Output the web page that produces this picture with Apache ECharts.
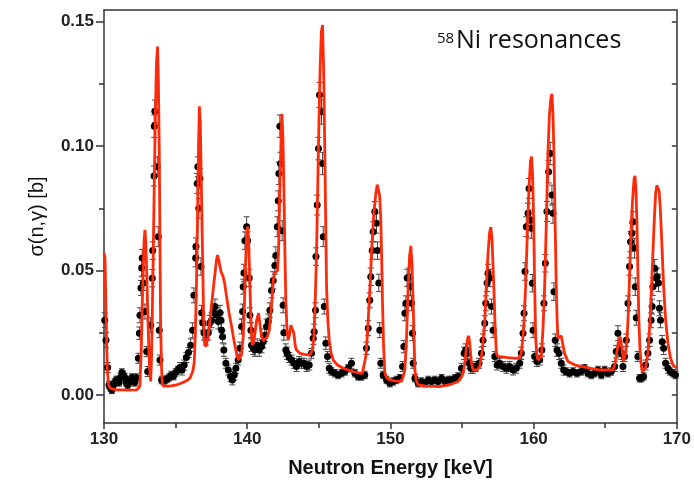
<!DOCTYPE html>
<html><head><meta charset="utf-8">
<script src="https://cdn.jsdelivr.net/npm/echarts@6/dist/echarts.min.js"></script>
<style>html,body{margin:0;padding:0;background:#fff}#c{width:694px;height:485px}</style>
</head><body><div id="c"></div>
<script>
// ---- theory curve (red) ----
const theoryE = [130.00,130.07,130.15,130.23,130.32,130.42,130.8,131.12,131.7,132.28,132.45,132.51,132.6,132.70,132.80,132.86,132.92,132.98,133.06,133.14,133.21,133.26,133.32,133.38,133.44,133.51,133.58,133.66,133.74,133.80,133.86,133.91,133.95,134.01,134.07,134.16,134.26,134.6,135.07,135.5,135.8,136.00,136.2,136.30,136.38,136.46,136.53,136.60,136.66,136.72,136.78,136.84,136.89,136.95,137.02,137.12,137.25,137.40,137.58,137.75,137.85,137.93,138.02,138.17,138.30,138.42,138.56,138.73,138.91,139.10,139.26,139.38,139.49,139.60,139.72,139.80,139.88,139.96,140.03,140.10,140.19,140.28,140.35,140.45,140.54,140.66,140.79,140.90,141.00,141.12,141.23,141.38,141.54,141.70,141.82,141.92,142.02,142.12,142.20,142.28,142.35,142.42,142.49,142.56,142.63,142.70,142.78,142.86,142.95,143.05,143.14,143.25,143.35,143.44,143.68,144.00,144.38,144.55,144.66,144.76,144.84,144.93,145.01,145.10,145.18,145.26,145.34,145.42,145.48,145.54,145.63,145.73,145.85,146.01,146.30,146.70,147.30,147.87,148.05,148.15,148.30,148.45,148.57,148.68,148.83,148.98,149.08,149.17,149.25,149.33,149.40,149.45,149.52,149.61,149.75,149.96,150.30,150.66,150.85,151.01,151.12,151.24,151.34,151.43,151.51,151.59,151.65,151.71,151.80,151.94,152.50,153.45,154.10,154.73,154.95,155.08,155.20,155.31,155.40,155.47,155.55,155.66,155.77,155.89,156.05,156.24,156.42,156.59,156.71,156.82,156.92,157.01,157.10,157.22,157.31,157.40,157.50,157.63,158.20,158.79,159.00,159.14,159.30,159.44,159.56,159.68,159.78,159.86,159.93,160.00,160.07,160.14,160.22,160.30,160.42,160.54,160.65,160.77,160.89,161.00,161.10,161.20,161.28,161.35,161.42,161.50,161.58,161.64,161.70,161.80,161.93,162.05,162.16,162.40,162.90,163.44,164.00,164.61,165.54,165.66,165.77,165.92,166.05,166.16,166.28,166.40,166.52,166.63,166.75,166.85,166.94,167.02,167.08,167.15,167.21,167.28,167.35,167.43,167.52,167.60,167.68,167.82,167.98,168.13,168.28,168.40,168.52,168.60,168.68,168.76,168.84,168.96,169.08,169.22,169.38,169.55,169.73,170.00];
const theorySigma = [0.057,0.055,0.030,0.010,0.004,0.0027,0.002,0.002,0.0019,0.002,0.003,0.004,0.018,0.0435,0.062,0.0663,0.061,0.050,0.032,0.0167,0.008,0.0054,0.015,0.035,0.057,0.085,0.110,0.133,0.1400,0.125,0.097,0.060,0.030,0.012,0.0047,0.0035,0.0033,0.0035,0.004,0.005,0.0058,0.0067,0.0095,0.013,0.025,0.045,0.070,0.100,0.116,0.110,0.090,0.070,0.055,0.032,0.021,0.0194,0.023,0.030,0.040,0.0489,0.054,0.0562,0.054,0.0496,0.0478,0.045,0.0395,0.033,0.0275,0.021,0.0167,0.014,0.0134,0.016,0.0234,0.035,0.052,0.064,0.0676,0.062,0.0435,0.027,0.020,0.021,0.0248,0.030,0.0328,0.028,0.0234,0.0218,0.022,0.023,0.026,0.036,0.046,0.049,0.049,0.050,0.060,0.0837,0.100,0.113,0.104,0.0837,0.058,0.0368,0.026,0.022,0.024,0.028,0.0288,0.025,0.020,0.018,0.0167,0.0163,0.016,0.018,0.0234,0.040,0.057,0.085,0.110,0.133,0.146,0.1487,0.130,0.097,0.070,0.0435,0.030,0.022,0.017,0.014,0.012,0.0107,0.0095,0.0087,0.0088,0.0094,0.016,0.030,0.043,0.057,0.072,0.081,0.0845,0.0853,0.080,0.0703,0.052,0.0368,0.020,0.0087,0.0068,0.006,0.0056,0.0054,0.0065,0.010,0.022,0.0435,0.056,0.0599,0.052,0.0368,0.022,0.010,0.006,0.004,0.0035,0.0033,0.004,0.0054,0.0070,0.0087,0.013,0.0194,0.0228,0.0237,0.020,0.0127,0.010,0.0094,0.010,0.0114,0.018,0.030,0.045,0.057,0.065,0.0674,0.062,0.0435,0.028,0.0167,0.0155,0.0154,0.015,0.0147,0.015,0.0167,0.026,0.0435,0.065,0.0837,0.094,0.0958,0.088,0.0703,0.045,0.0234,0.016,0.014,0.0142,0.0154,0.026,0.0435,0.070,0.097,0.112,0.119,0.121,0.113,0.097,0.070,0.0435,0.030,0.0228,0.0232,0.0237,0.020,0.0167,0.0134,0.012,0.0114,0.0107,0.010,0.010,0.012,0.0154,0.021,0.0234,0.019,0.0134,0.016,0.022,0.035,0.057,0.072,0.081,0.087,0.088,0.082,0.0703,0.050,0.030,0.018,0.0114,0.0092,0.0087,0.011,0.0167,0.030,0.050,0.067,0.081,0.0842,0.0848,0.082,0.0757,0.060,0.0435,0.030,0.0208,0.015,0.012,0.0107];

// ---- measured data (black points with error bars) ----
const dataE = [130.05,130.14,130.25,130.35,130.45,130.55,130.65,130.75,130.85,130.95,131.05,131.15,131.25,131.35,131.45,131.55,131.65,131.75,131.85,131.95,132.05,132.15,132.25,132.40,132.47,132.51,132.58,132.63,132.67,132.74,132.86,132.98,133.05,133.16,133.26,133.37,133.40,133.49,133.51,133.55,133.72,133.79,133.86,133.91,134.02,134.15,134.26,134.40,134.55,134.70,134.85,135.00,135.15,135.30,135.45,135.60,135.75,135.90,136.05,136.19,136.28,136.40,136.42,136.51,136.55,136.62,136.70,136.77,136.82,136.89,136.98,137.12,137.28,137.40,137.51,137.63,137.75,137.86,137.98,138.10,138.17,138.21,138.28,138.37,138.51,138.68,138.84,138.96,139.10,139.21,139.37,139.49,139.61,139.68,139.72,139.77,139.84,139.96,140.03,140.14,140.19,140.26,140.30,140.42,140.54,140.70,140.84,141.00,141.12,141.23,141.35,141.47,141.58,141.70,141.82,141.93,142.00,142.10,142.17,142.21,142.28,142.33,142.44,142.51,142.56,142.70,142.79,142.93,143.10,143.26,143.44,143.63,143.80,143.96,144.15,144.33,144.49,144.61,144.68,144.77,144.80,144.89,144.98,145.05,145.19,145.26,145.31,145.38,145.49,145.61,145.73,145.89,146.12,146.35,146.59,146.82,147.05,147.28,147.52,147.75,147.98,148.21,148.33,148.45,148.56,148.63,148.73,148.80,148.91,149.03,149.10,149.19,149.26,149.33,149.49,149.73,149.96,150.19,150.42,150.66,150.85,150.94,151.01,151.08,151.17,151.31,151.40,151.47,151.54,151.59,151.71,151.94,152.17,152.40,152.64,152.87,153.10,153.33,153.57,153.80,154.03,154.26,154.50,154.73,154.96,155.15,155.26,155.38,155.50,155.61,155.78,155.96,156.19,156.36,156.47,156.59,156.66,156.75,156.82,156.94,157.06,157.17,157.29,157.45,157.63,157.86,158.10,158.33,158.56,158.79,159.03,159.14,159.26,159.33,159.40,159.49,159.61,159.68,159.79,159.84,159.91,159.96,160.07,160.23,160.42,160.58,160.72,160.82,160.93,161.05,161.16,161.28,161.35,161.42,161.51,161.63,161.77,161.93,162.10,162.28,162.51,162.75,163.03,163.33,163.56,163.79,164.03,164.26,164.49,164.73,164.96,165.19,165.42,165.66,165.77,165.89,166.00,166.12,166.24,166.35,166.47,166.59,166.70,166.77,166.87,166.94,167.05,167.10,167.17,167.28,167.40,167.52,167.68,167.82,167.98,168.10,168.21,168.28,168.33,168.45,168.56,168.63,168.72,168.79,168.86,168.98,169.08,169.22,169.38,169.54,169.73,169.91];
const dataSigma = [0.030,0.022,0.011,0.004,0.003,0.002,0.004,0.005,0.006,0.006,0.005,0.007,0.009,0.008,0.007,0.005,0.004,0.005,0.006,0.007,0.006,0.005,0.007,0.0147,0.0248,0.032,0.043,0.051,0.055,0.045,0.0335,0.0174,0.0094,0.0174,0.028,0.0469,0.058,0.088,0.108,0.114,0.0917,0.0636,0.026,0.014,0.006,0.0055,0.006,0.0064,0.007,0.008,0.0075,0.009,0.010,0.011,0.010,0.012,0.015,0.017,0.020,0.026,0.040,0.055,0.0596,0.085,0.0917,0.075,0.087,0.0516,0.033,0.029,0.025,0.023,0.025,0.029,0.030,0.033,0.0355,0.032,0.0295,0.033,0.030,0.026,0.0234,0.018,0.0127,0.010,0.0074,0.006,0.008,0.0107,0.014,0.0187,0.0275,0.0335,0.0435,0.049,0.062,0.0676,0.062,0.047,0.032,0.026,0.020,0.0187,0.018,0.020,0.018,0.0194,0.0214,0.024,0.0275,0.0295,0.034,0.042,0.046,0.052,0.056,0.0676,0.078,0.089,0.108,0.093,0.066,0.036,0.025,0.018,0.0167,0.015,0.014,0.0127,0.0114,0.0134,0.0127,0.0127,0.0114,0.012,0.0167,0.0228,0.0254,0.034,0.0556,0.0763,0.099,0.1205,0.1138,0.093,0.0636,0.0355,0.0208,0.0154,0.0107,0.0094,0.0087,0.008,0.0087,0.0094,0.0107,0.0127,0.0087,0.0074,0.0074,0.008,0.0187,0.0268,0.038,0.0475,0.058,0.0656,0.0737,0.069,0.058,0.045,0.026,0.0127,0.008,0.006,0.0047,0.0054,0.006,0.0067,0.0114,0.0194,0.0328,0.0368,0.047,0.0475,0.0435,0.0368,0.0248,0.0127,0.0067,0.0047,0.0054,0.0047,0.006,0.0054,0.006,0.0054,0.0067,0.0054,0.006,0.006,0.0067,0.0074,0.0107,0.0167,0.018,0.0167,0.0127,0.0107,0.0107,0.0114,0.0127,0.0167,0.022,0.0288,0.0368,0.045,0.049,0.047,0.0355,0.026,0.0154,0.012,0.0127,0.0114,0.0107,0.0114,0.010,0.0107,0.0127,0.0167,0.0248,0.0328,0.0496,0.0676,0.073,0.083,0.0703,0.067,0.0449,0.026,0.0154,0.0134,0.014,0.018,0.0368,0.0529,0.0737,0.0897,0.097,0.0803,0.073,0.0415,0.022,0.018,0.0167,0.0127,0.010,0.0094,0.0087,0.0094,0.0087,0.0094,0.0107,0.0087,0.008,0.0087,0.010,0.008,0.010,0.0087,0.0094,0.0114,0.0174,0.0248,0.018,0.0167,0.0114,0.0154,0.022,0.0368,0.0516,0.0616,0.065,0.0696,0.059,0.0435,0.031,0.0154,0.0067,0.0067,0.0074,0.012,0.0167,0.022,0.030,0.0355,0.0435,0.0509,0.047,0.0475,0.045,0.0348,0.030,0.0214,0.0187,0.0127,0.0107,0.0094,0.0087,0.008];
const dataErr = [0.003,0.003,0.002,0.0015,0.0015,0.0015,0.0015,0.0015,0.0015,0.0015,0.0015,0.0015,0.0015,0.0015,0.0015,0.0015,0.0015,0.0015,0.0015,0.0015,0.0015,0.0015,0.0015,0.002,0.0025,0.003,0.003,0.0035,0.0035,0.003,0.003,0.002,0.002,0.002,0.003,0.0035,0.0035,0.004,0.0045,0.0045,0.004,0.004,0.003,0.002,0.0015,0.0015,0.0015,0.0015,0.0015,0.0015,0.0015,0.0015,0.0015,0.002,0.002,0.002,0.002,0.002,0.0025,0.003,0.003,0.0035,0.0035,0.004,0.004,0.004,0.004,0.0035,0.003,0.003,0.003,0.003,0.003,0.003,0.003,0.003,0.003,0.003,0.003,0.003,0.003,0.003,0.0025,0.0025,0.002,0.002,0.002,0.002,0.002,0.002,0.002,0.0025,0.003,0.003,0.003,0.0035,0.0035,0.004,0.0035,0.0035,0.003,0.003,0.0025,0.0025,0.0025,0.0025,0.0025,0.0025,0.0025,0.0025,0.003,0.003,0.003,0.003,0.0035,0.0035,0.0035,0.004,0.004,0.0045,0.0045,0.0045,0.004,0.003,0.003,0.0025,0.0025,0.002,0.002,0.002,0.002,0.002,0.002,0.002,0.002,0.002,0.002,0.0025,0.003,0.003,0.0035,0.004,0.0045,0.005,0.005,0.0045,0.004,0.003,0.0025,0.002,0.002,0.0015,0.0015,0.0015,0.0015,0.0015,0.0015,0.002,0.0015,0.0015,0.0015,0.0015,0.0025,0.003,0.003,0.0035,0.0035,0.004,0.004,0.004,0.0035,0.0035,0.003,0.002,0.0015,0.0015,0.0015,0.0015,0.0015,0.0015,0.002,0.0025,0.003,0.003,0.0035,0.0035,0.0035,0.003,0.003,0.002,0.0015,0.0015,0.0015,0.0015,0.0015,0.0015,0.0015,0.0015,0.0015,0.0015,0.0015,0.0015,0.0015,0.0015,0.002,0.0025,0.0025,0.0025,0.002,0.002,0.002,0.002,0.002,0.0025,0.0025,0.003,0.003,0.0035,0.0035,0.0035,0.003,0.003,0.002,0.002,0.002,0.002,0.002,0.002,0.002,0.002,0.002,0.0025,0.003,0.003,0.0035,0.004,0.004,0.004,0.004,0.004,0.0035,0.003,0.002,0.002,0.002,0.0025,0.003,0.0035,0.004,0.0045,0.0045,0.004,0.004,0.0035,0.0025,0.0025,0.0025,0.002,0.002,0.0015,0.0015,0.0015,0.0015,0.0015,0.0015,0.0015,0.0015,0.0015,0.0015,0.0015,0.0015,0.0015,0.0015,0.002,0.0025,0.003,0.0025,0.0025,0.002,0.002,0.0025,0.003,0.0035,0.004,0.004,0.004,0.004,0.0035,0.003,0.002,0.0015,0.0015,0.0015,0.002,0.0025,0.0025,0.003,0.003,0.0035,0.0035,0.0035,0.0035,0.0035,0.003,0.003,0.0025,0.0025,0.002,0.002,0.0015,0.0015,0.0015];

// ---- axes ----
const xMin = 130, xMax = 170, xStep = 10;
const yTicks = [0, 0.05, 0.10, 0.15];
const yMinorTicks = [0.025, 0.075, 0.125];
const yMin = -0.0113, yMax = 0.1547;

const theory = theoryE.map((e, i) => [e, theorySigma[i]]);
const points = dataE.map((e, i) => [e, dataSigma[i], dataErr[i]]);

const axisColor = '#333';
const labelFont = { fontFamily: 'Liberation Sans, Arial, sans-serif', fontSize: 17, fontWeight: 'bold', color: '#222' };

const chart = echarts.init(document.getElementById('c'), null, { renderer: 'canvas' });
chart.setOption({
  animation: false,
  backgroundColor: '#fff',
  grid: { left: 104, right: 17, top: 10, bottom: 62 },
  xAxis: [
    {
      type: 'value', min: xMin, max: xMax, interval: xStep, position: 'bottom',
      axisLine: { show: true, onZero: false, lineStyle: { color: axisColor, width: 1.5 } },
      axisTick: { show: true, length: 6, lineStyle: { color: axisColor, width: 1.5 } },
      minorTick: { show: true, splitNumber: 2, length: 5, lineStyle: { color: axisColor, width: 1.5 } },
      axisLabel: Object.assign({ margin: 8 }, labelFont),
      splitLine: { show: false }, minorSplitLine: { show: false },
      name: 'Neutron Energy [keV]', nameLocation: 'middle', nameGap: 35,
      nameTextStyle: { fontFamily: 'Liberation Sans, Arial, sans-serif', fontSize: 20, fontWeight: 'bold', color: '#111' }
    },
    {
      type: 'value', min: xMin, max: xMax, interval: xStep, position: 'top',
      axisLine: { show: true, onZero: false, lineStyle: { color: axisColor, width: 1.5 } },
      axisTick: { show: false },
      axisLabel: { show: false },
      splitLine: { show: false }
    }
  ],
  yAxis: [
    {
      type: 'value', min: yMin, max: yMax, position: 'left',
      axisLine: { show: true, onZero: false, lineStyle: { color: axisColor, width: 1.5 } },
      axisTick: { show: true, length: 8, customValues: yTicks, lineStyle: { color: axisColor, width: 1.5 } },
      axisLabel: Object.assign({ margin: 10, customValues: yTicks, formatter: v => v.toFixed(2) }, labelFont),
      splitLine: { show: false },
      name: 'σ(n,γ) [b]', nameLocation: 'middle', nameGap: 57, nameRotate: 90,
      nameTextStyle: { fontFamily: 'Liberation Sans, Arial, sans-serif', fontSize: 20, color: '#111' }
    },
    {
      type: 'value', min: yMin, max: yMax, position: 'left',
      axisLine: { show: false, onZero: false },
      axisTick: { show: true, length: 5, customValues: yMinorTicks, lineStyle: { color: axisColor, width: 1.5 } },
      axisLabel: { show: false },
      splitLine: { show: false }
    },
    {
      type: 'value', min: yMin, max: yMax, position: 'right',
      axisLine: { show: true, onZero: false, lineStyle: { color: axisColor, width: 1.5 } },
      axisTick: { show: true, inside: true, length: 5, customValues: yTicks.concat(yMinorTicks), lineStyle: { color: axisColor, width: 1.5 } },
      axisLabel: { show: false },
      splitLine: { show: false }
    }
  ],
  series: [
    {
      type: 'custom', xAxisIndex: 0, yAxisIndex: 0, z: 2,
      data: points,
      encode: { x: 0, y: 1 },
      renderItem: function (params, api) {
        const x = api.value(0), y = api.value(1), e = api.value(2);
        const lo = api.coord([x, y - e]);
        const hi = api.coord([x, y + e]);
        const w = 3;
        const st = { stroke: '#444', lineWidth: 1 };
        return {
          type: 'group',
          children: [
            { type: 'line', shape: { x1: lo[0], y1: lo[1], x2: hi[0], y2: hi[1] }, style: st },
            { type: 'line', shape: { x1: lo[0] - w, y1: lo[1], x2: lo[0] + w, y2: lo[1] }, style: st },
            { type: 'line', shape: { x1: hi[0] - w, y1: hi[1], x2: hi[0] + w, y2: hi[1] }, style: st }
          ]
        };
      }
    },
    {
      type: 'scatter', xAxisIndex: 0, yAxisIndex: 0, z: 3,
      data: points, encode: { x: 0, y: 1 },
      symbol: 'circle', symbolSize: 7,
      itemStyle: { color: '#000', opacity: 1 }
    },
    {
      type: 'line', xAxisIndex: 0, yAxisIndex: 0, z: 5,
      data: theory, showSymbol: false, smooth: false,
      lineStyle: { color: '#ff2a0a', width: 2.8 }
    }
  ],
  graphic: [
    { type: 'text', left: 437, top: 31, style: { text: '58', fontFamily: 'Open Sans, sans-serif', fontSize: 15, fill: '#111' } },
    { type: 'text', left: 456, top: 28, style: { text: 'Ni resonances', fontFamily: 'Open Sans, sans-serif', fontSize: 25, fill: '#111' } }
  ]
});
</script>
</body></html>
